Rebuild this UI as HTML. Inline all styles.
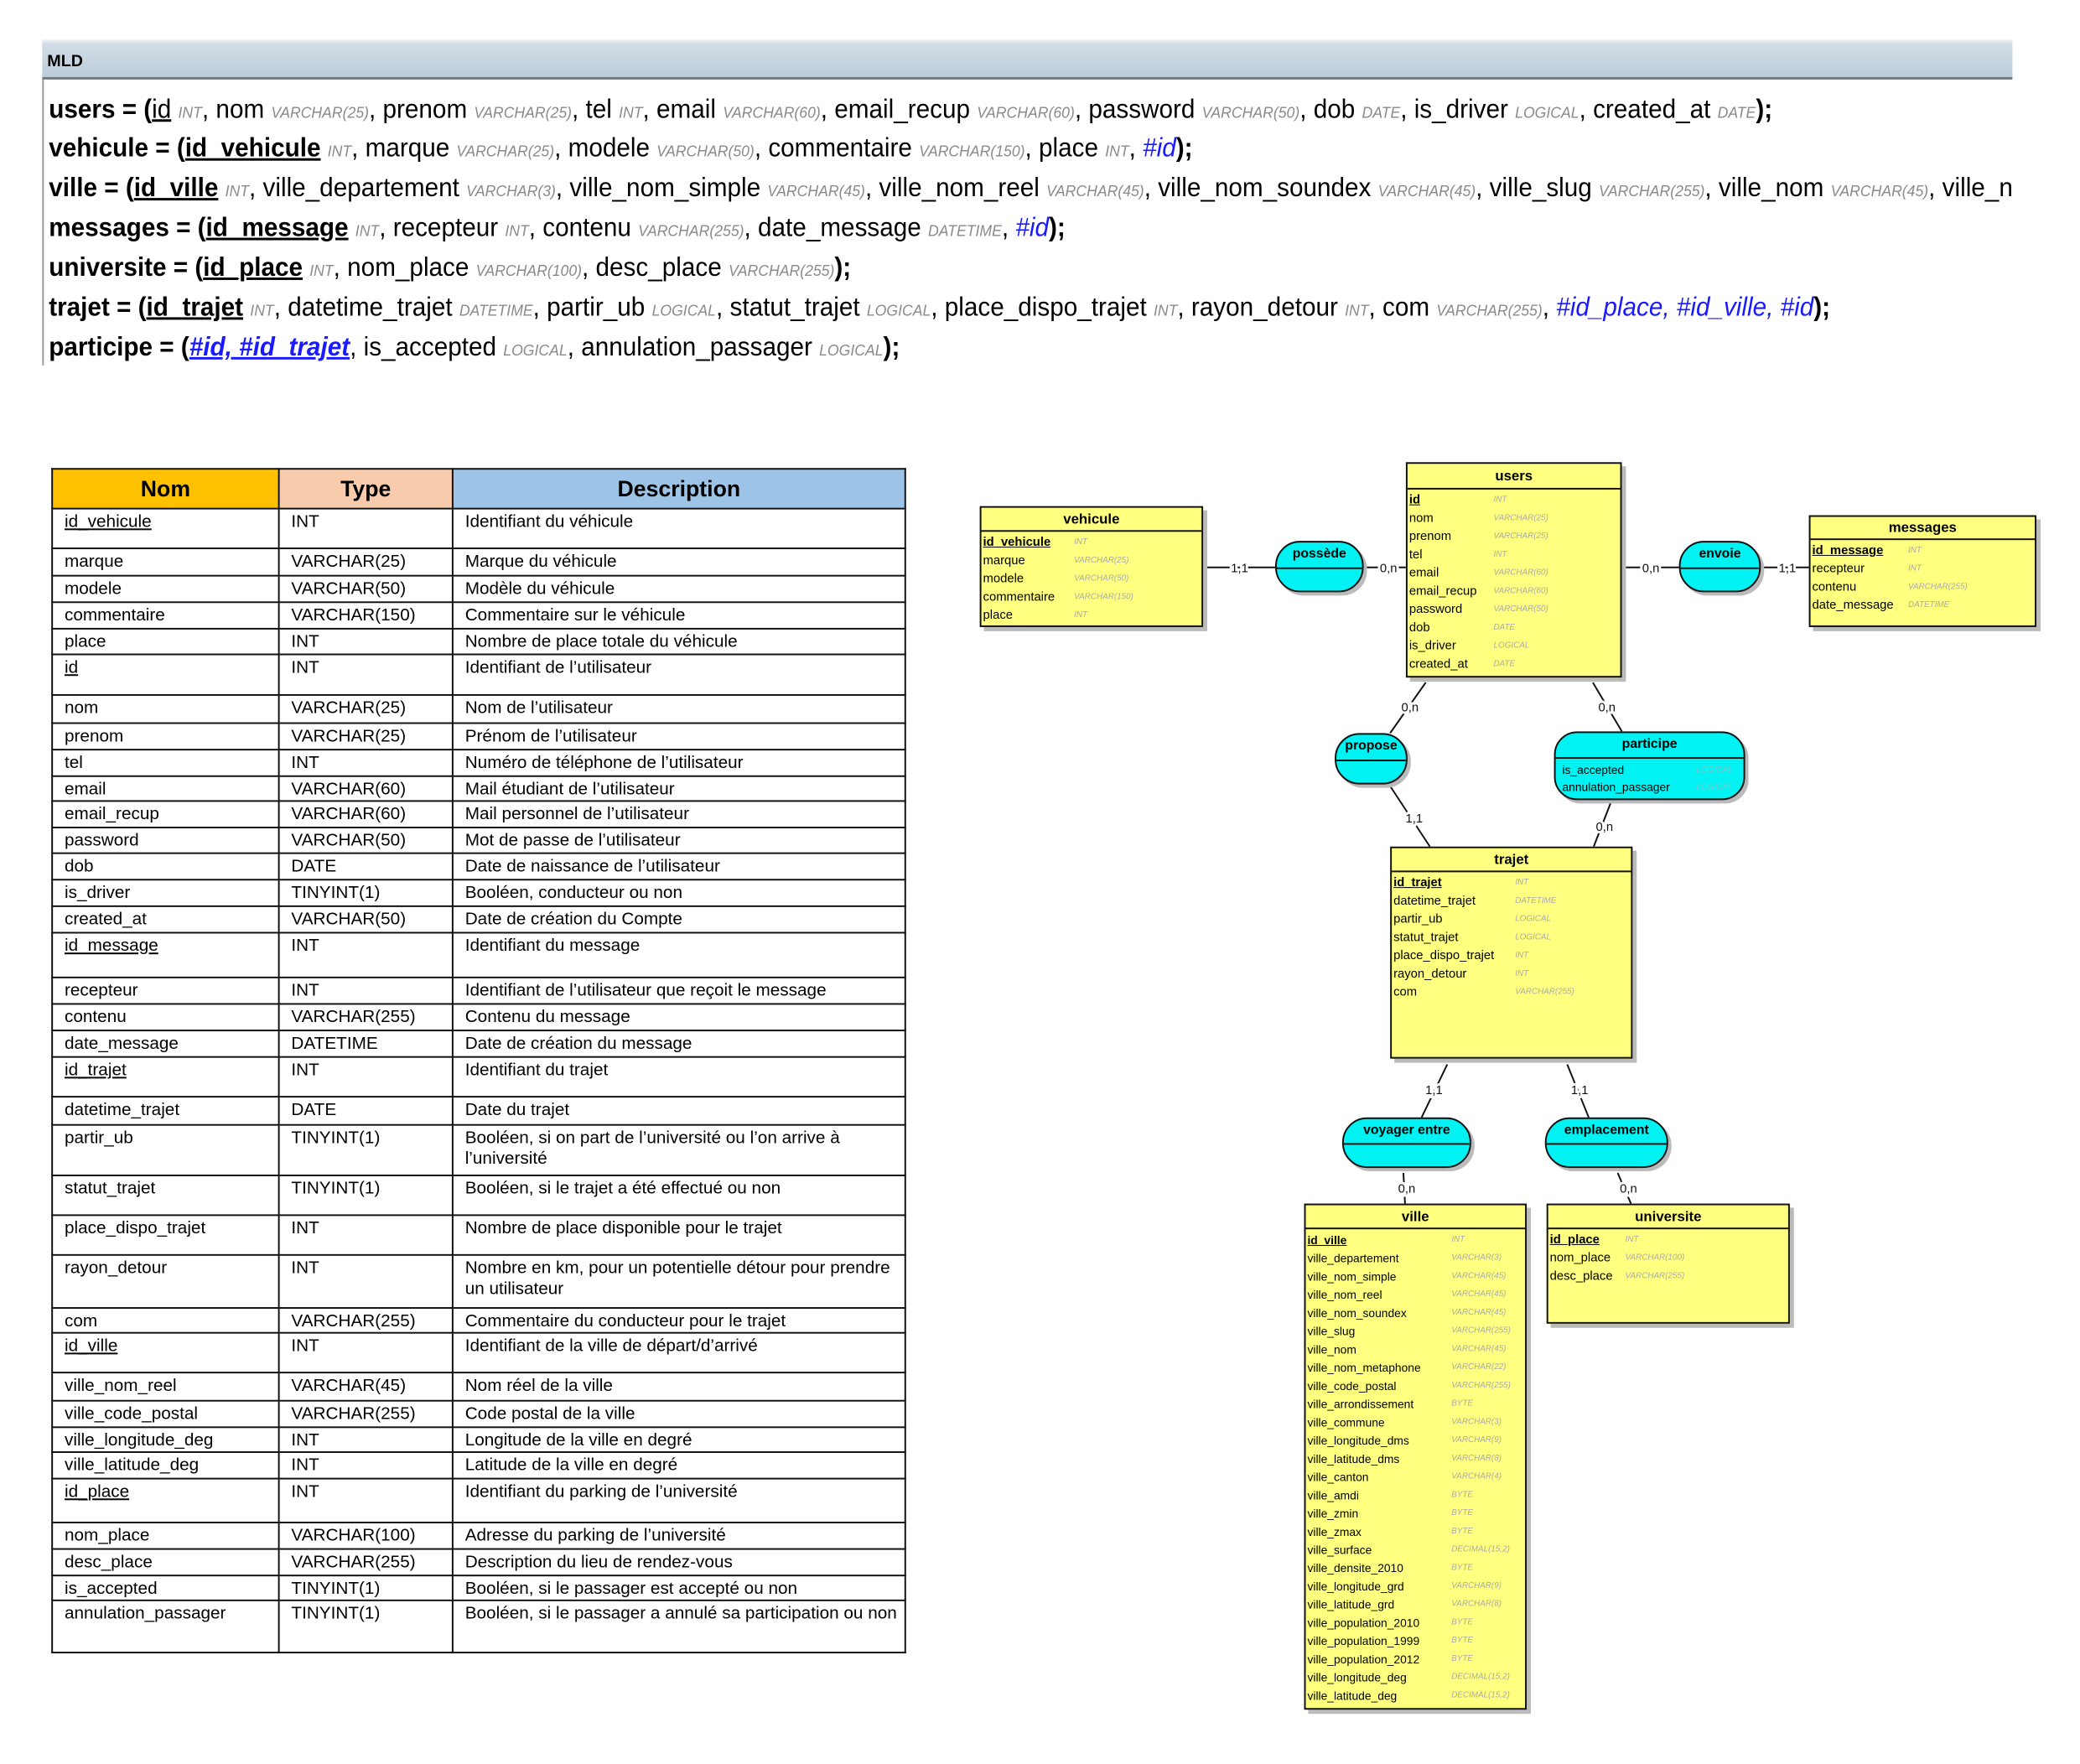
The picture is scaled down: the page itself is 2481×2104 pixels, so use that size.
<!DOCTYPE html>
<html><head><meta charset="utf-8">
<style>
*{margin:0;padding:0;box-sizing:border-box}
body{width:2481px;height:2094px;background:#fff;position:relative;overflow:hidden;font-family:"Liberation Sans",sans-serif;color:#000}
#w{position:absolute;left:0;top:0;width:2520px;height:2130px;transform:scale(0.987,0.988);transform-origin:0 0}
.bar{position:absolute;left:51px;top:48px;width:2381px;height:48px;background:linear-gradient(#d4dee8,#bccbda);border-top:3px solid #e6ebf0;border-bottom:3px solid #707880}
.bar span{position:absolute;left:6px;top:12px;font-weight:bold;font-size:20px}
.vline{position:absolute;left:51px;top:96px;width:2px;height:345px;background:#999}
.mld{position:absolute;left:59px;width:2700px;height:48px;line-height:48px;font-size:32px;white-space:nowrap;transform:scaleX(0.94);transform-origin:0 50%}
.mldclip{position:absolute;left:0;top:0;width:2432px;height:460px;overflow:hidden}
.mld b{font-weight:bold}
.t{font-size:19px;font-style:italic;color:#8a8a8a}
.k{color:#1a1aff;font-style:italic}
.u{text-decoration:underline}
table{position:absolute;left:62px;top:565px;border-collapse:collapse;width:1031px;font-size:21px;table-layout:fixed}
td{border:2px solid #111;vertical-align:top;padding:2px 0 0 14px;line-height:25px}
th{border:2px solid #111;font-size:27px;font-weight:bold;height:48px}
.ent{position:absolute;background:#ffff80;border:2px solid #111;box-shadow:5px 5px 0 #bbb;font-size:15px}
.ent .h{text-align:center;font-weight:bold;font-size:17px;border-bottom:2px solid #111}
.ent .r{position:relative;height:22px;line-height:22px;padding-left:2px;white-space:nowrap}
.ent .r i{position:absolute;top:0;font-size:10px;color:#aaa}
.as{position:absolute;background:#00f2f2;border:2px solid #111;box-shadow:4px 4px 0 #bbb;font-size:16px;font-weight:bold;text-align:center;overflow:hidden}
.as .ln{position:absolute;left:0;right:0;height:2px;background:#111}
svg{position:absolute;left:0;top:0}
</style></head><body><div id="w">
<div class="bar"><span>MLD</span></div>
<div class="vline"></div>
<div class="mldclip">
<div class="mld" style="top:107px"><b>users = (</b><span class="u">id</span> <span class="t">INT</span>, nom <span class="t">VARCHAR(25)</span>, prenom <span class="t">VARCHAR(25)</span>, tel <span class="t">INT</span>, email <span class="t">VARCHAR(60)</span>, email_recup <span class="t">VARCHAR(60)</span>, password <span class="t">VARCHAR(50)</span>, dob <span class="t">DATE</span>, is_driver <span class="t">LOGICAL</span>, created_at <span class="t">DATE</span><b>);</b></div>
<div class="mld" style="top:154px"><b>vehicule = (<span class="u">id_vehicule</span></b> <span class="t">INT</span>, marque <span class="t">VARCHAR(25)</span>, modele <span class="t">VARCHAR(50)</span>, commentaire <span class="t">VARCHAR(150)</span>, place <span class="t">INT</span>, <span class="k">#id</span><b>);</b></div>
<div class="mld" style="top:202px"><b>ville = (<span class="u">id_ville</span></b> <span class="t">INT</span>, ville_departement <span class="t">VARCHAR(3)</span>, ville_nom_simple <span class="t">VARCHAR(45)</span>, ville_nom_reel <span class="t">VARCHAR(45)</span>, ville_nom_soundex <span class="t">VARCHAR(45)</span>, ville_slug <span class="t">VARCHAR(255)</span>, ville_nom <span class="t">VARCHAR(45)</span>, ville_nom_metaphone <span class="t">VARCHAR(22)</span></div>
<div class="mld" style="top:250px"><b>messages = (<span class="u">id_message</span></b> <span class="t">INT</span>, recepteur <span class="t">INT</span>, contenu <span class="t">VARCHAR(255)</span>, date_message <span class="t">DATETIME</span>, <span class="k">#id</span><b>);</b></div>
<div class="mld" style="top:298px"><b>universite = (<span class="u">id_place</span></b> <span class="t">INT</span>, nom_place <span class="t">VARCHAR(100)</span>, desc_place <span class="t">VARCHAR(255)</span><b>);</b></div>
<div class="mld" style="top:346px"><b>trajet = (<span class="u">id_trajet</span></b> <span class="t">INT</span>, datetime_trajet <span class="t">DATETIME</span>, partir_ub <span class="t">LOGICAL</span>, statut_trajet <span class="t">LOGICAL</span>, place_dispo_trajet <span class="t">INT</span>, rayon_detour <span class="t">INT</span>, com <span class="t">VARCHAR(255)</span>, <span class="k">#id_place, #id_ville, #id</span><b>);</b></div>
<div class="mld" style="top:394px"><b>participe = (</b><span class="k u" style="font-weight:bold">#id, #id_trajet</span>, is_accepted <span class="t">LOGICAL</span>, annulation_passager <span class="t">LOGICAL</span><b>);</b></div>
</div>

<table>
<colgroup><col style="width:274px"><col style="width:210px"><col style="width:547px"></colgroup>
<tr><th style="background:#ffc000">Nom</th><th style="background:#f8cbad">Type</th><th style="background:#9dc3e6">Description</th></tr>
<tr style="height:48px"><td class="u">id_vehicule</td><td>INT</td><td>Identifiant du véhicule</td></tr>
<tr style="height:33px"><td>marque</td><td>VARCHAR(25)</td><td>Marque du véhicule</td></tr>
<tr style="height:32px"><td>modele</td><td>VARCHAR(50)</td><td>Modèle du véhicule</td></tr>
<tr style="height:32px"><td>commentaire</td><td>VARCHAR(150)</td><td>Commentaire sur le véhicule</td></tr>
<tr style="height:31px"><td>place</td><td>INT</td><td>Nombre de place totale du véhicule</td></tr>
<tr style="height:49px"><td class="u">id</td><td>INT</td><td>Identifiant de l’utilisateur</td></tr>
<tr style="height:34px"><td>nom</td><td>VARCHAR(25)</td><td>Nom de l’utilisateur</td></tr>
<tr style="height:32px"><td>prenom</td><td>VARCHAR(25)</td><td>Prénom de l’utilisateur</td></tr>
<tr style="height:32px"><td>tel</td><td>INT</td><td>Numéro de téléphone de l’utilisateur</td></tr>
<tr style="height:30px"><td>email</td><td>VARCHAR(60)</td><td>Mail étudiant de l’utilisateur</td></tr>
<tr style="height:32px"><td>email_recup</td><td>VARCHAR(60)</td><td>Mail personnel de l’utilisateur</td></tr>
<tr style="height:31px"><td>password</td><td>VARCHAR(50)</td><td>Mot de passe de l’utilisateur</td></tr>
<tr style="height:32px"><td>dob</td><td>DATE</td><td>Date de naissance de l’utilisateur</td></tr>
<tr style="height:32px"><td>is_driver</td><td>TINYINT(1)</td><td>Booléen, conducteur ou non</td></tr>
<tr style="height:32px"><td>created_at</td><td>VARCHAR(50)</td><td>Date de création du Compte</td></tr>
<tr style="height:54px"><td class="u">id_message</td><td>INT</td><td>Identifiant du message</td></tr>
<tr style="height:32px"><td>recepteur</td><td>INT</td><td>Identifiant de l’utilisateur que reçoit le message</td></tr>
<tr style="height:32px"><td>contenu</td><td>VARCHAR(255)</td><td>Contenu du message</td></tr>
<tr style="height:32px"><td>date_message</td><td>DATETIME</td><td>Date de création du message</td></tr>
<tr style="height:48px"><td class="u">id_trajet</td><td>INT</td><td>Identifiant du trajet</td></tr>
<tr style="height:34px"><td>datetime_trajet</td><td>DATE</td><td>Date du trajet</td></tr>
<tr style="height:61px"><td>partir_ub</td><td>TINYINT(1)</td><td>Booléen, si on part de l’université ou l’on arrive à l’université</td></tr>
<tr style="height:48px"><td>statut_trajet</td><td>TINYINT(1)</td><td>Booléen, si le trajet a été effectué ou non</td></tr>
<tr style="height:48px"><td>place_dispo_trajet</td><td>INT</td><td>Nombre de place disponible pour le trajet</td></tr>
<tr style="height:64px"><td>rayon_detour</td><td>INT</td><td>Nombre en km, pour un potentielle détour pour prendre un utilisateur</td></tr>
<tr style="height:30px"><td>com</td><td>VARCHAR(255)</td><td>Commentaire du conducteur pour le trajet</td></tr>
<tr style="height:48px"><td class="u">id_ville</td><td>INT</td><td>Identifiant de la ville de départ/d’arrivé</td></tr>
<tr style="height:34px"><td>ville_nom_reel</td><td>VARCHAR(45)</td><td>Nom réel de la ville</td></tr>
<tr style="height:32px"><td>ville_code_postal</td><td>VARCHAR(255)</td><td>Code postal de la ville</td></tr>
<tr style="height:30px"><td>ville_longitude_deg</td><td>INT</td><td>Longitude de la ville en degré</td></tr>
<tr style="height:32px"><td>ville_latitude_deg</td><td>INT</td><td>Latitude de la ville en degré</td></tr>
<tr style="height:53px"><td class="u">id_place</td><td>INT</td><td>Identifiant du parking de l’université</td></tr>
<tr style="height:32px"><td>nom_place</td><td>VARCHAR(100)</td><td>Adresse du parking de l’université</td></tr>
<tr style="height:32px"><td>desc_place</td><td>VARCHAR(255)</td><td>Description du lieu de rendez-vous</td></tr>
<tr style="height:30px"><td>is_accepted</td><td>TINYINT(1)</td><td>Booléen, si le passager est accepté ou non</td></tr>
<tr style="height:63px"><td>annulation_passager</td><td>TINYINT(1)</td><td>Booléen, si le passager a annulé sa participation ou non</td></tr>
</table>

<svg width="2520" height="2130" style="font-family:'Liberation Sans',sans-serif;font-size:15px">
<g stroke="#111" stroke-width="2">
<line x1="1454" y1="685" x2="1541" y2="685"/>
<line x1="1648" y1="685" x2="1699" y2="685"/>
<line x1="1960" y1="685" x2="2029" y2="685"/>
<line x1="2128" y1="685" x2="2186" y2="685"/>
<line x1="1723" y1="824" x2="1680" y2="885"/>
<line x1="1680" y1="949" x2="1728" y2="1022"/>
<line x1="1925" y1="824" x2="1960" y2="883"/>
<line x1="1947" y1="968" x2="1926" y2="1022"/>
<line x1="1749" y1="1285" x2="1718" y2="1349"/>
<line x1="1894" y1="1285" x2="1920" y2="1349"/>
<line x1="1696" y1="1416" x2="1698" y2="1453"/>
<line x1="1955" y1="1416" x2="1971" y2="1453"/>
</g>
<g text-anchor="middle" stroke="#fff" stroke-width="6" paint-order="stroke" fill="#111">
<text x="1498" y="691">1,1</text>
<text x="1678" y="691">0,n</text>
<text x="1995" y="691">0,n</text>
<text x="2160" y="691">1,1</text>
<text x="1704" y="859">0,n</text>
<text x="1942" y="859">0,n</text>
<text x="1709" y="993">1,1</text>
<text x="1939" y="1003">0,n</text>
<text x="1733" y="1321">1,1</text>
<text x="1909" y="1321">1,1</text>
<text x="1700" y="1440">0,n</text>
<text x="1968" y="1440">0,n</text>
</g>
</svg>

<div class="ent" style="left:1184px;top:611px;width:270px;height:146px">
<div class="h" style="height:29px;line-height:27px">vehicule</div>
<div style="padding-top:2px">
<div class="r"><b class="u">id_vehicule</b><i style="left:112px">INT</i></div>
<div class="r">marque<i style="left:112px">VARCHAR(25)</i></div>
<div class="r">modele<i style="left:112px">VARCHAR(50)</i></div>
<div class="r">commentaire<i style="left:112px">VARCHAR(150)</i></div>
<div class="r">place<i style="left:112px">INT</i></div>
</div></div>

<div class="ent" style="left:1699px;top:558px;width:261px;height:260px">
<div class="h" style="height:31px;line-height:29px">users</div>
<div style="padding-top:2px">
<div class="r"><b class="u">id</b><i style="left:104px">INT</i></div>
<div class="r">nom<i style="left:104px">VARCHAR(25)</i></div>
<div class="r">prenom<i style="left:104px">VARCHAR(25)</i></div>
<div class="r">tel<i style="left:104px">INT</i></div>
<div class="r">email<i style="left:104px">VARCHAR(60)</i></div>
<div class="r">email_recup<i style="left:104px">VARCHAR(60)</i></div>
<div class="r">password<i style="left:104px">VARCHAR(50)</i></div>
<div class="r">dob<i style="left:104px">DATE</i></div>
<div class="r">is_driver<i style="left:104px">LOGICAL</i></div>
<div class="r">created_at<i style="left:104px">DATE</i></div>
</div></div>

<div class="ent" style="left:2186px;top:622px;width:275px;height:135px">
<div class="h" style="height:28px;line-height:26px">messages</div>
<div style="padding-top:2px">
<div class="r"><b class="u">id_message</b><i style="left:118px">INT</i></div>
<div class="r">recepteur<i style="left:118px">INT</i></div>
<div class="r">contenu<i style="left:118px">VARCHAR(255)</i></div>
<div class="r">date_message<i style="left:118px">DATETIME</i></div>
</div></div>

<div class="ent" style="left:1680px;top:1022px;width:293px;height:256px">
<div class="h" style="height:29px;line-height:27px">trajet</div>
<div style="padding-top:2px">
<div class="r"><b class="u">id_trajet</b><i style="left:149px">INT</i></div>
<div class="r">datetime_trajet<i style="left:149px">DATETIME</i></div>
<div class="r">partir_ub<i style="left:149px">LOGICAL</i></div>
<div class="r">statut_trajet<i style="left:149px">LOGICAL</i></div>
<div class="r">place_dispo_trajet<i style="left:149px">INT</i></div>
<div class="r">rayon_detour<i style="left:149px">INT</i></div>
<div class="r">com<i style="left:149px">VARCHAR(255)</i></div>
</div></div>

<div class="ent" style="left:1576px;top:1453px;width:269px;height:611px">
<div class="h" style="height:29px;line-height:27px">ville</div>
<div style="padding-top:2px;font-size:14px">
<div class="r"><b class="u">id_ville</b><i style="left:176px">INT</i></div>
<div class="r">ville_departement<i style="left:176px">VARCHAR(3)</i></div>
<div class="r">ville_nom_simple<i style="left:176px">VARCHAR(45)</i></div>
<div class="r">ville_nom_reel<i style="left:176px">VARCHAR(45)</i></div>
<div class="r">ville_nom_soundex<i style="left:176px">VARCHAR(45)</i></div>
<div class="r">ville_slug<i style="left:176px">VARCHAR(255)</i></div>
<div class="r">ville_nom<i style="left:176px">VARCHAR(45)</i></div>
<div class="r">ville_nom_metaphone<i style="left:176px">VARCHAR(22)</i></div>
<div class="r">ville_code_postal<i style="left:176px">VARCHAR(255)</i></div>
<div class="r">ville_arrondissement<i style="left:176px">BYTE</i></div>
<div class="r">ville_commune<i style="left:176px">VARCHAR(3)</i></div>
<div class="r">ville_longitude_dms<i style="left:176px">VARCHAR(9)</i></div>
<div class="r">ville_latitude_dms<i style="left:176px">VARCHAR(8)</i></div>
<div class="r">ville_canton<i style="left:176px">VARCHAR(4)</i></div>
<div class="r">ville_amdi<i style="left:176px">BYTE</i></div>
<div class="r">ville_zmin<i style="left:176px">BYTE</i></div>
<div class="r">ville_zmax<i style="left:176px">BYTE</i></div>
<div class="r">ville_surface<i style="left:176px">DECIMAL(15,2)</i></div>
<div class="r">ville_densite_2010<i style="left:176px">BYTE</i></div>
<div class="r">ville_longitude_grd<i style="left:176px">VARCHAR(9)</i></div>
<div class="r">ville_latitude_grd<i style="left:176px">VARCHAR(8)</i></div>
<div class="r">ville_population_2010<i style="left:176px">BYTE</i></div>
<div class="r">ville_population_1999<i style="left:176px">BYTE</i></div>
<div class="r">ville_population_2012<i style="left:176px">BYTE</i></div>
<div class="r">ville_longitude_deg<i style="left:176px">DECIMAL(15,2)</i></div>
<div class="r">ville_latitude_deg<i style="left:176px">DECIMAL(15,2)</i></div>
</div></div>

<div class="ent" style="left:1869px;top:1453px;width:294px;height:145px">
<div class="h" style="height:29px;line-height:27px">universite</div>
<div style="padding-top:2px">
<div class="r"><b class="u">id_place</b><i style="left:93px">INT</i></div>
<div class="r">nom_place<i style="left:93px">VARCHAR(100)</i></div>
<div class="r">desc_place<i style="left:93px">VARCHAR(255)</i></div>
</div></div>

<div class="as" style="left:1541px;top:653px;width:107px;height:62px;border-radius:30px"><div style="line-height:28px">possède</div><div class="ln" style="top:30px"></div></div>
<div class="as" style="left:2029px;top:653px;width:99px;height:62px;border-radius:30px"><div style="line-height:28px">envoie</div><div class="ln" style="top:30px"></div></div>
<div class="as" style="left:1613px;top:885px;width:88px;height:62px;border-radius:30px"><div style="line-height:28px">propose</div><div class="ln" style="top:30px"></div></div>
<div class="as" style="left:1878px;top:883px;width:231px;height:83px;border-radius:28px"><div style="line-height:28px">participe</div><div class="ln" style="top:29px"></div>
<div style="position:absolute;left:8px;top:34px;font-weight:normal;font-size:14px;text-align:left;line-height:21px;width:220px">is_accepted<i style="position:absolute;left:162px;font-size:10px;color:#7cc">LOGICAL</i><br>annulation_passager<i style="position:absolute;left:162px;top:21px;font-size:10px;color:#7cc">LOGICAL</i></div></div>
<div class="as" style="left:1622px;top:1349px;width:156px;height:61px;border-radius:30px"><div style="line-height:28px">voyager entre</div><div class="ln" style="top:29px"></div></div>
<div class="as" style="left:1867px;top:1349px;width:149px;height:61px;border-radius:30px"><div style="line-height:28px">emplacement</div><div class="ln" style="top:29px"></div></div>
</div></body></html>
